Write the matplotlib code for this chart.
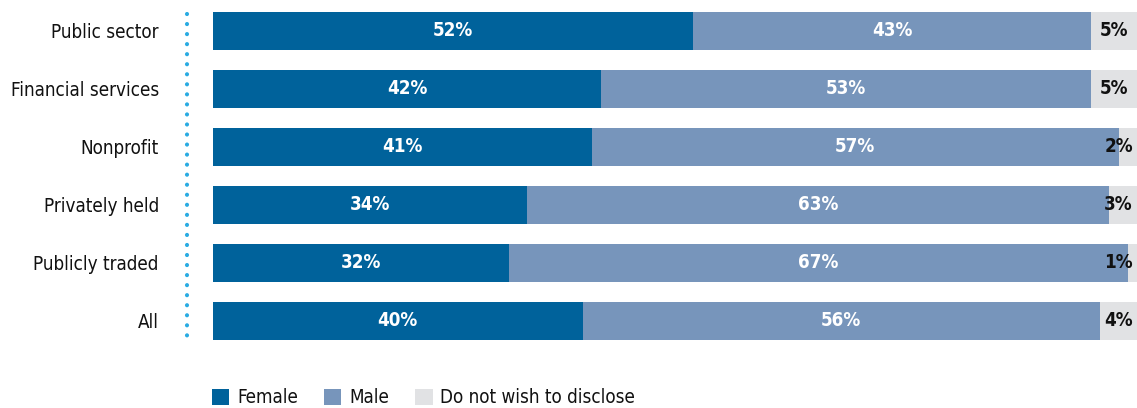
import matplotlib
matplotlib.use("Agg")
import matplotlib.pyplot as plt
from matplotlib.patches import Patch
from matplotlib.lines import Line2D

categories = ["Public sector", "Financial services", "Nonprofit",
              "Privately held", "Publicly traded", "All"]
female = [52, 42, 41, 34, 32, 40]
male = [43, 53, 57, 63, 67, 56]
undisclosed = [5, 5, 2, 3, 1, 4]
series_names = ["Female", "Male", "Do not wish to disclose"]

colors = ["#00629b", "#7795bb", "#e1e2e4"]
text_colors = ["white", "white", "#111111"]
font = dict(family="DejaVu Sans", stretch="condensed")

W, H = 1137, 408
fig = plt.figure(figsize=(W / 100, H / 100), dpi=100)
ax = fig.add_axes([213 / W, 1 - 350 / H, 1 - 213 / W, 348 / H])

ypos = list(range(len(categories)))
left = [0] * len(categories)
for vals, col, tcol in zip([female, male, undisclosed], colors, text_colors):
    ax.barh(ypos, vals, left=left, height=0.655, color=col, linewidth=0)
    for y, v, l in zip(ypos, vals, left):
        # keep labels of narrow end segments inside the plotting area
        x = min(l + v / 2, 98.0)
        ax.text(x, y, f"{v}%", ha="center", va="center",
                color=tcol, fontsize=13.5, fontweight="bold", **font)
    left = [a + b for a, b in zip(left, vals)]

ax.set_xlim(0, 100)
ax.set_ylim(len(categories) - 0.5, -0.5)
ax.set_yticks(ypos)
ax.set_yticklabels(categories, fontsize=13.5, color="#111111", **font)
ax.tick_params(axis="y", length=0, pad=39)
ax.set_xticks([])
for s in ax.spines.values():
    s.set_visible(False)

# dotted separator between the category labels and the bars
fig.add_artist(Line2D([187 / W, 187 / W], [1 - 14 / H, 1 - 344 / H],
                      transform=fig.transFigure, color="#29abe2",
                      linestyle=(0, (0.01, 2.4)), linewidth=3,
                      solid_capstyle="round", dash_capstyle="round"))

handles = [Patch(facecolor=c, edgecolor="none") for c in colors]
fig.legend(handles, series_names, loc="lower left",
           bbox_to_anchor=(195 / W, -0.04), ncol=3, frameon=False,
           handlelength=0.92, handleheight=0.92, handletextpad=0.42,
           columnspacing=1.4, prop=dict(size=13.5, **font),
           labelcolor="#111111")

fig.savefig("out.png", dpi=100)
